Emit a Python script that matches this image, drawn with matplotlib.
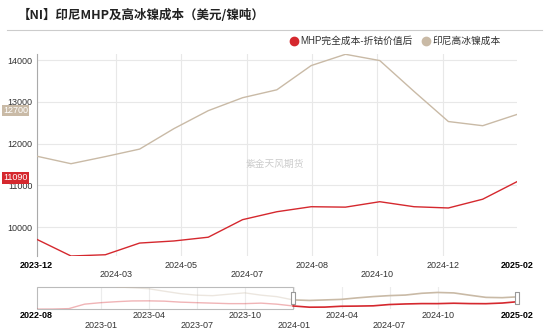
import matplotlib
matplotlib.use('Agg')
import matplotlib.pyplot as plt
import matplotlib.dates as mdates
import matplotlib.transforms as mtransforms
from matplotlib.lines import Line2D
from matplotlib.patches import Rectangle
import numpy as np
import pandas as pd

plt.rcParams['font.family'] = ['Liberation Sans', 'Noto Sans CJK SC', 'DejaVu Sans']

# ---- data (month-end values, USD per nickel ton) ----
months = pd.date_range('2022-08-01', periods=31, freq='MS') + pd.offsets.MonthEnd(0)

# MHP full cost net of cobalt credit, 2022-08 .. 2025-02
mhp_cost = [8680, 8700, 8840, 10310, 10800, 11130, 11360, 11390, 11290, 10970,
            10800, 10640, 10480, 10480, 10640, 10300,
            9710, 9310, 9340, 9620, 9670, 9760, 10180, 10370, 10490, 10480,
            10610, 10490, 10460, 10670, 11090]
# Indonesia high-grade nickel matte cost (starts 2023-01)
matte_cost = [np.nan, np.nan, np.nan, np.nan, np.nan,
              15970, 15700, 15380, 14560, 13750, 13260, 13090, 13580, 14010, 13260, 12770,
              11700, 11520, 11690, 11870, 12360, 12790, 13100, 13290, 13870, 14140,
              13990, 13250, 12530, 12430, 12700]

main_start = 16  # 2023-12 is the first month in the zoomed window
main_ticks = ['2023-12', '2024-03', '2024-05', '2024-07', '2024-08', '2024-10', '2024-12', '2025-02']
main_tick_pos = [0, 2.30, 4.21, 6.12, 8.02, 9.92, 11.84, 14]
slider_ticks = ['2022-08', '2023-01', '2023-04', '2023-07', '2023-10', '2024-01', '2024-04', '2024-07', '2024-10', '2025-02']

title = '【NI】印尼MHP及高冰镍成本（美元/镍吨）'
names = ['MHP完全成本-折钴价值后', '印尼高冰镍成本']
red = '#d5282e'
tan = '#c9baa6'

mhp = np.array(mhp_cost, dtype=float)
matte = np.array(matte_cost, dtype=float)
mhp_main = mhp[main_start:]
matte_main = matte[main_start:]
x = np.arange(len(mhp_main))

W, H = 550, 334
fig = plt.figure(figsize=(W / 100, H / 100), dpi=100)

# ---- main chart ----
ax = fig.add_axes([36.7 / W, (H - 256) / H, 480.3 / W, (256 - 54.3) / H])
ax.plot(x, matte_main, color=tan, lw=1.0, zorder=3)
ax.plot(x, mhp_main, color=red, lw=1.0, zorder=3)
ax.set_xlim(0, len(x) - 1)
ax.set_ylim(np.nanmin(mhp_main), np.nanmax(matte_main))
ax.set_yticks([10000, 11000, 12000, 13000, 14000])
ax.tick_params(axis='y', length=0, pad=3, labelsize=6.5, labelcolor='#333333')
ax.tick_params(axis='x', length=0, labelbottom=False)
ax.set_xticks(main_tick_pos)
ax.grid(True, color='#e8e8e8', lw=0.8)
ax.set_axisbelow(True)
ax.xaxis.get_gridlines()[-1].set_visible(False)
for s in ['top', 'right', 'bottom']:
    ax.spines[s].set_visible(False)
ax.spines['left'].set_color('#aaaaaa')
ax.spines['left'].set_linewidth(0.8)

xtrans = ax.get_xaxis_transform()
for i, (p, lab) in enumerate(zip(main_tick_pos, main_ticks)):
    end = i == 0 or i == len(main_ticks) - 1
    row2 = (not end) and i % 2 == 1
    off = -18.5 if row2 else -9
    t = mtransforms.offset_copy(xtrans, fig=fig, y=off, units='dots')
    ax.text(p, 0, lab, transform=t, ha='center', va='center', fontsize=6.5,
            color='#000000' if end else '#333333', fontweight='bold' if end else 'normal')

# last-value labels on the y axis
ytrans = mtransforms.offset_copy(ax.get_yaxis_transform(), fig=fig, y=4, units='dots')
for v, c in [(matte_main[-1], tan), (mhp_main[-1], red)]:
    ax.text(-0.018, v, f'{v:.0f}', transform=ytrans, ha='right', va='center', fontsize=6.5,
            color='white', bbox=dict(boxstyle='square,pad=0.15', fc=c, ec='none'))

# ---- title, rule, legend, watermark ----
fig.text(18 / W, 1 - 15 / H, title, fontsize=9, fontweight='bold', va='center',
         family=['Noto Sans CJK SC'], color='#222222')
fig.add_artist(Line2D([7 / W, 542 / W], [1 - 30 / H] * 2, color='#cccccc', lw=0.8))
for cx, tx, c, n in [(294, 300, red, names[0]), (426, 432, tan, names[1])]:
    fig.add_artist(Line2D([cx / W], [1 - 41 / H], marker='o', ms=6, color=c, mec=c))
    fig.text(tx / W, 1 - 41 / H, n, fontsize=7, va='center', color='#333333')
fig.text(274.5 / W, 1 - 164 / H, '紫金天风期货', fontsize=7, color='#cccccc', ha='center', va='center')

# ---- data zoom slider ----
sl = fig.add_axes([36.7 / W, (H - 309.3) / H, 480.3 / W, 22.6 / H])
xd = mdates.date2num(months)
sl.set_xlim(xd[0], xd[-1])
lo = np.nanmin([np.nanmin(mhp), np.nanmin(matte)])
hi = np.nanmax([np.nanmax(mhp), np.nanmax(matte)])
sl.set_ylim(lo - 60, hi + 60)
sl.plot(xd[:main_start + 1], matte[:main_start + 1], color=tan, alpha=0.35, lw=1.0)
sl.plot(xd[:main_start + 1], mhp[:main_start + 1], color=red, alpha=0.35, lw=1.0)
sl.plot(xd[main_start:], matte[main_start:], color=tan, lw=1.2)
sl.plot(xd[main_start:], mhp[main_start:], color=red, lw=1.2)
for s in sl.spines.values():
    s.set_visible(False)
sl.set_xticks([])
sl.set_yticks([])

slx = sl.get_xaxis_transform()
sl.add_patch(Rectangle((xd[0], 0), xd[main_start] - xd[0], 1, transform=slx, fill=False,
                       ec='#bbbbbb', lw=0.8, clip_on=False))
tick_x = [xd[0]] + [mdates.date2num(pd.Timestamp(t + '-01')) for t in slider_ticks[1:-1]] + [xd[-1]]
for i, (p, lab) in enumerate(zip(tick_x, slider_ticks)):
    end = i == 0 or i == len(slider_ticks) - 1
    if not end:
        sl.axvline(p, color='#ececec', lw=0.8, zorder=0)
    row2 = (not end) and i % 2 == 1
    off = -16.7 if row2 else -6.7
    t = mtransforms.offset_copy(slx, fig=fig, y=off, units='dots')
    sl.text(p, 0, lab, transform=t, ha='center', va='center', fontsize=6.5,
            color='#000000' if end else '#333333', fontweight='bold' if end else 'normal')

handle = [(-2, -5.5), (2, -5.5), (2, 5.5), (-2, 5.5), (-2, -5.5)]
for p in [xd[main_start], xd[-1]]:
    sl.plot([p], [0.5], transform=slx, marker=handle, ms=8, mfc='white', mec='#999999',
            mew=0.8, clip_on=False, zorder=5)

fig.savefig('out.png', dpi=100)
